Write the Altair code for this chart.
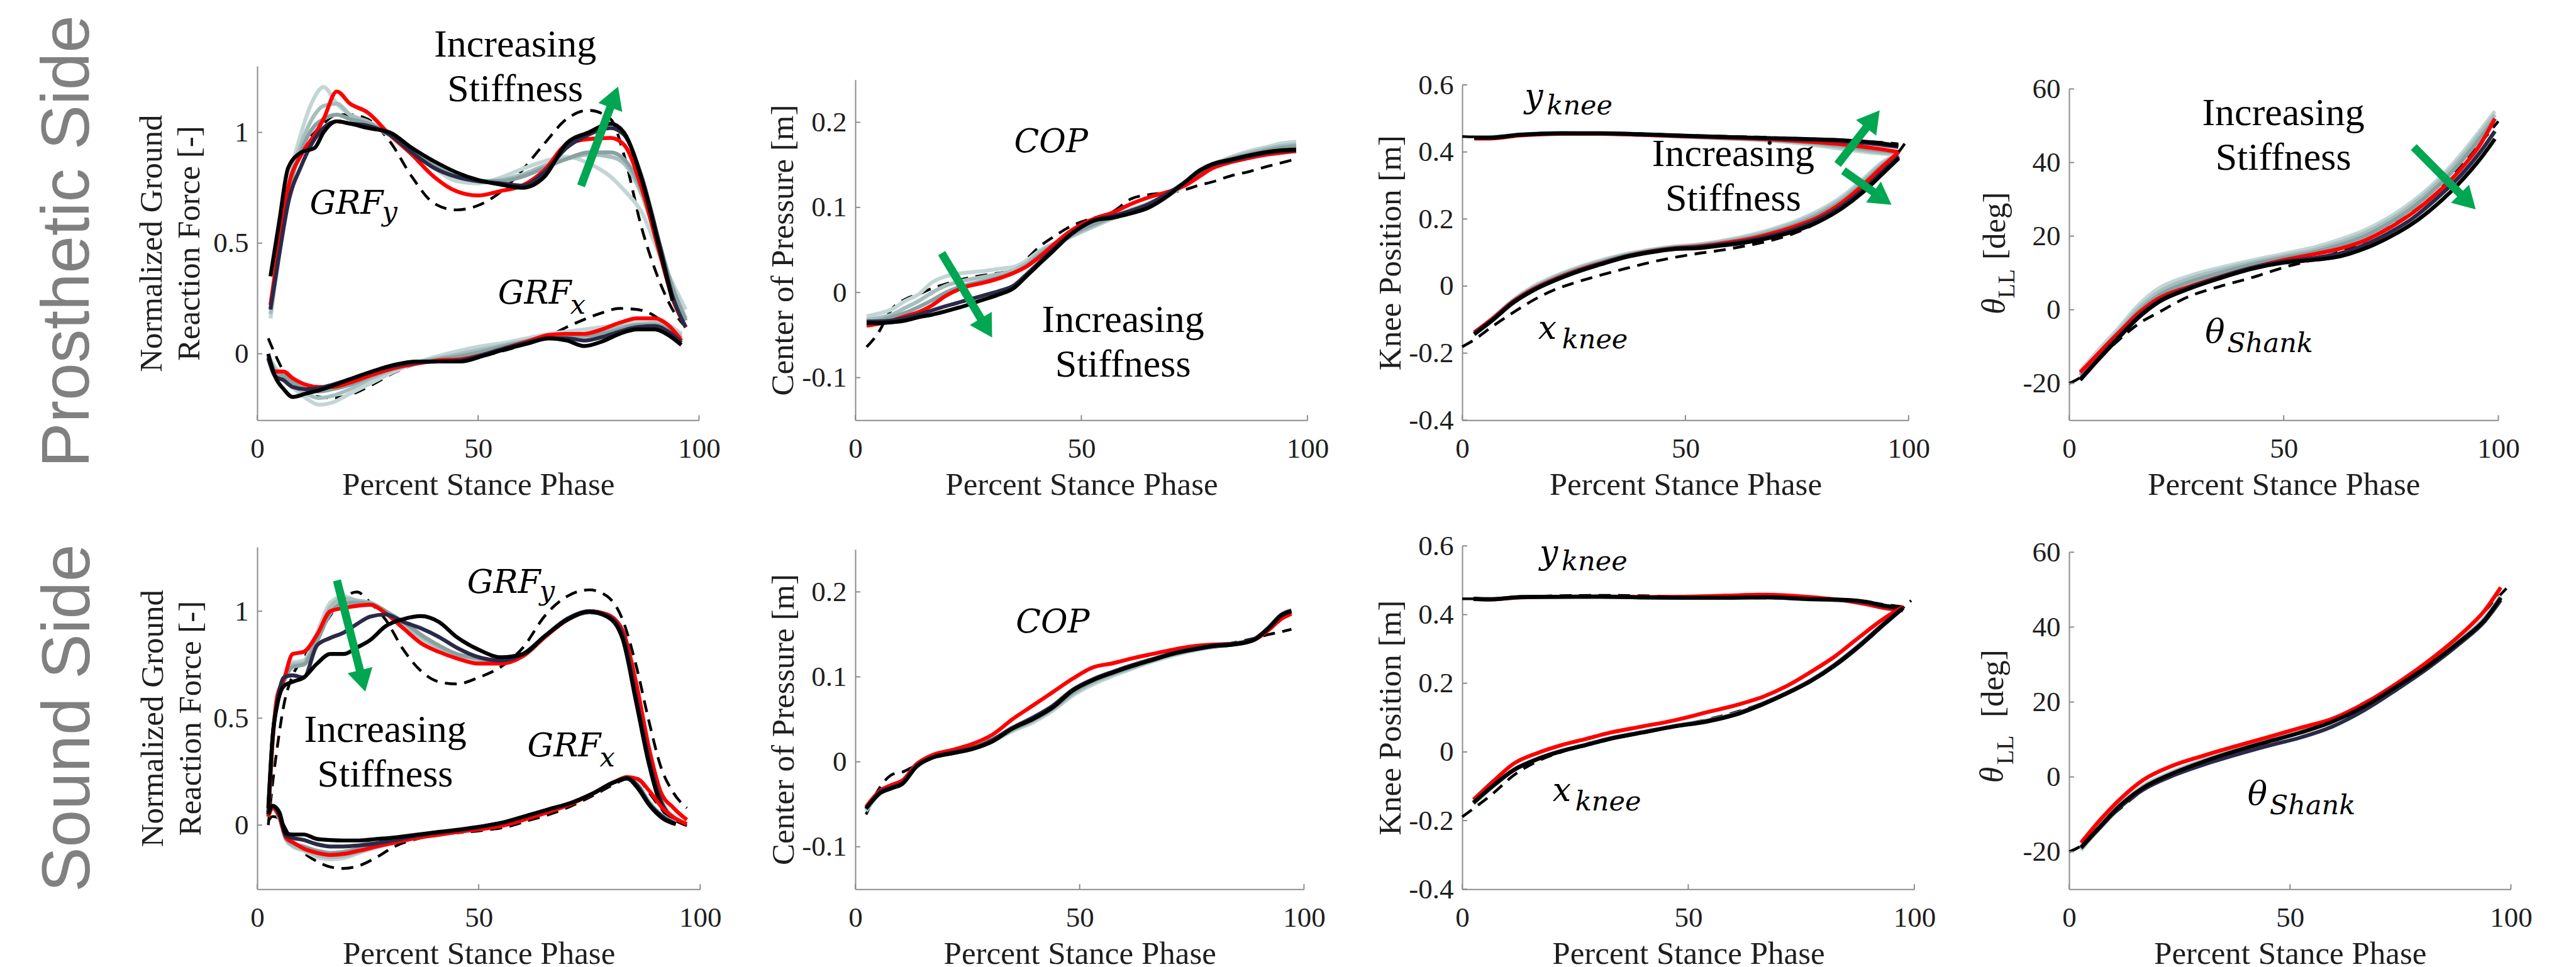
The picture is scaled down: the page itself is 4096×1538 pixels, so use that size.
import altair as alt
import pandas as pd

# ===================== DATA =====================
# ---- Prosthetic side (row 1) ----
R1_GRFY_X = [3, 5, 7, 10, 13, 15, 18, 21, 25, 30, 35, 40, 45, 50, 55, 60, 65, 70, 75, 80, 83, 87, 91, 94, 97]
R1_GRFY_G1 = [0.16, 0.45, 0.75, 1.0, 1.16, 1.205, 1.13, 1.08, 1.04, 0.985, 0.91, 0.84, 0.78, 0.77, 0.795, 0.835, 0.87, 0.89, 0.86, 0.8, 0.74, 0.64, 0.45, 0.32, 0.2]
R1_GRFY_G2 = [0.18, 0.47, 0.74, 0.95, 1.08, 1.12, 1.13, 1.08, 1.05, 0.99, 0.92, 0.85, 0.8, 0.78, 0.785, 0.81, 0.85, 0.88, 0.9, 0.89, 0.86, 0.72, 0.48, 0.3, 0.16]
R1_GRFY_G3 = [0.2, 0.48, 0.72, 0.92, 1.03, 1.06, 1.08, 1.06, 1.04, 0.99, 0.92, 0.85, 0.8, 0.78, 0.78, 0.8, 0.84, 0.88, 0.91, 0.91, 0.88, 0.74, 0.5, 0.3, 0.15]
R1_GRFY_RED = [0.22, 0.5, 0.75, 0.9, 0.99, 1.06, 1.185, 1.13, 1.09, 0.99, 0.9, 0.8, 0.735, 0.715, 0.735, 0.76, 0.83, 0.945, 0.97, 0.975, 0.945, 0.75, 0.46, 0.25, 0.12]
R1_GRFY_NAVY = [0.2, 0.45, 0.68, 0.85, 0.97, 1.02, 1.05, 1.04, 1.03, 0.99, 0.91, 0.84, 0.8, 0.78, 0.77, 0.76, 0.82, 0.93, 0.99, 1.02, 0.99, 0.8, 0.5, 0.26, 0.12]
R1_GRFY_BLACK = [0.35, 0.6, 0.84, 0.91, 0.93, 1.0, 1.05, 1.04, 1.02, 1.0, 0.93, 0.87, 0.82, 0.785, 0.765, 0.75, 0.8, 0.95, 1.0, 1.04, 1.0, 0.79, 0.48, 0.24, None]
R1_GRFY_REF = [0.22, 0.5, 0.75, 0.92, 1.0, 1.04, 1.08, 1.08, 1.06, 0.96, 0.8, 0.68, 0.65, 0.67, 0.73, 0.83, 0.95, 1.06, 1.1, 1.06, 0.9, 0.57, 0.33, 0.2, 0.12]

R1_GRFX_X = [2.5, 4, 6, 8, 11, 14, 17, 21, 26, 31, 36, 41, 46, 51, 56, 61, 66, 70, 74, 78, 82, 86, 90, 93, 96]
R1_GRFX_G1 = [-0.01, -0.06, -0.1, -0.15, -0.2, -0.23, -0.22, -0.18, -0.13, -0.08, -0.04, -0.01, 0.015, 0.035, 0.05, 0.07, 0.09, 0.1, 0.11, 0.12, 0.13, 0.14, 0.14, 0.13, 0.09]
R1_GRFX_G2 = [-0.01, -0.07, -0.1, -0.14, -0.18, -0.2, -0.19, -0.16, -0.11, -0.07, -0.04, -0.02, 0.0, 0.02, 0.04, 0.06, 0.08, 0.09, 0.09, 0.1, 0.12, 0.13, 0.14, 0.12, 0.08]
R1_GRFX_G3 = [-0.01, -0.08, -0.1, -0.13, -0.16, -0.17, -0.16, -0.14, -0.1, -0.065, -0.04, -0.025, -0.01, 0.01, 0.035, 0.055, 0.075, 0.08, 0.08, 0.09, 0.11, 0.13, 0.13, 0.11, 0.07]
R1_GRFX_RED = [-0.02, -0.08, -0.08, -0.11, -0.14, -0.15, -0.15, -0.13, -0.095, -0.065, -0.045, -0.03, -0.025, -0.005, 0.025, 0.055, 0.085, 0.09, 0.09, 0.11, 0.14, 0.16, 0.16, 0.13, 0.06]
R1_GRFX_NAVY = [-0.02, -0.1, -0.12, -0.15, -0.16, -0.155, -0.14, -0.115, -0.08, -0.055, -0.04, -0.035, -0.03, -0.005, 0.025, 0.05, 0.07, 0.07, 0.06, 0.075, 0.1, 0.12, 0.125, 0.1, 0.05]
R1_GRFX_BLACK = [0.0, -0.1, -0.16, -0.195, -0.18, -0.165, -0.145, -0.115, -0.08, -0.05, -0.035, -0.035, -0.035, -0.01, 0.02, 0.045, 0.07, 0.06, 0.035, 0.055, 0.09, 0.11, 0.11, 0.085, 0.04]
R1_GRFX_REF = [0.07, 0.0, -0.08, -0.13, -0.17, -0.195, -0.2, -0.185, -0.14, -0.085, -0.045, -0.03, -0.025, -0.01, 0.015, 0.045, 0.08, 0.12, 0.155, 0.185, 0.205, 0.2, 0.17, 0.12, 0.06]

R1_COP_X = [2.5, 5, 8, 11, 14, 17, 20, 24, 28, 32, 35, 38, 41, 44, 47, 50, 53, 57, 61, 65, 69, 73, 76, 79, 83, 87, 91, 94, 97.5]
R1_COP_G1 = [-0.028, -0.025, -0.02, -0.01, -0.002, 0.012, 0.019, 0.023, 0.025, 0.028, 0.03, 0.038, 0.05, 0.058, 0.064, 0.071, 0.078, 0.087, 0.095, 0.103, 0.113, 0.127, 0.138, 0.15, 0.159, 0.166, 0.171, 0.175, 0.177]
R1_COP_G2 = [-0.032, -0.03, -0.026, -0.018, -0.01, 0.0, 0.008, 0.014, 0.018, 0.022, 0.026, 0.035, 0.048, 0.057, 0.064, 0.072, 0.079, 0.088, 0.096, 0.104, 0.114, 0.128, 0.14, 0.15, 0.158, 0.164, 0.169, 0.172, 0.174]
R1_COP_G3 = [-0.035, -0.033, -0.029, -0.024, -0.017, -0.009, 0.0, 0.008, 0.013, 0.018, 0.023, 0.032, 0.045, 0.056, 0.066, 0.074, 0.081, 0.089, 0.097, 0.105, 0.115, 0.129, 0.14, 0.15, 0.157, 0.162, 0.167, 0.17, 0.172]
R1_COP_RED = [-0.039, -0.037, -0.033, -0.028, -0.023, -0.015, -0.004, 0.006, 0.011, 0.017, 0.023, 0.031, 0.043, 0.057, 0.07, 0.08, 0.087, 0.094, 0.104, 0.112, 0.118, 0.126, 0.136, 0.146, 0.153, 0.158, 0.162, 0.164, 0.166]
R1_COP_NAVY = [-0.034, -0.034, -0.033, -0.03, -0.026, -0.021, -0.016, -0.01, -0.004, 0.002, 0.008, 0.022, 0.037, 0.052, 0.066, 0.077, 0.085, 0.09, 0.096, 0.104, 0.116, 0.13, 0.142, 0.15, 0.155, 0.16, 0.164, 0.166, 0.167]
R1_COP_BLACK = [-0.036, -0.036, -0.035, -0.033, -0.029, -0.026, -0.022, -0.016, -0.009, -0.002, 0.005, 0.02, 0.035, 0.05, 0.065, 0.077, 0.085, 0.088, 0.093, 0.1, 0.113, 0.13, 0.143, 0.151, 0.156, 0.161, 0.165, 0.167, 0.168]
R1_COP_REF = [-0.064, -0.048, -0.02, -0.008, -0.002, 0.005, 0.01, 0.016, 0.02, 0.023, 0.026, 0.04, 0.055, 0.066, 0.076, 0.083, 0.088, 0.095, 0.11, 0.115, 0.117, 0.121, 0.126, 0.13, 0.137, 0.142, 0.148, 0.152, 0.157]

R1_YK_X = [2.7, 6, 13, 22, 31, 40, 49, 58, 67, 76, 85, 92.3, 97.7]
R1_YK_G1 = [0.444, 0.444, 0.452, 0.456, 0.455, 0.451, 0.446, 0.441, 0.435, 0.425, 0.409, 0.397, 0.391]
R1_YK_G2 = [0.444, 0.444, 0.452, 0.456, 0.455, 0.451, 0.446, 0.441, 0.436, 0.428, 0.414, 0.401, 0.394]
R1_YK_G3 = [0.443, 0.443, 0.451, 0.455, 0.455, 0.452, 0.447, 0.442, 0.438, 0.431, 0.419, 0.406, 0.398]
R1_YK_RED = [0.44, 0.44, 0.449, 0.454, 0.454, 0.451, 0.447, 0.443, 0.439, 0.432, 0.423, 0.411, 0.4]
R1_YK_NAVY = [0.443, 0.443, 0.451, 0.455, 0.455, 0.452, 0.448, 0.444, 0.441, 0.437, 0.432, 0.424, 0.415]
R1_YK_BLACK = [0.442, 0.442, 0.451, 0.456, 0.456, 0.453, 0.449, 0.445, 0.442, 0.439, 0.435, 0.428, 0.419]
R1_YK_REF_X = [0, 2.7, 6, 13, 22, 31, 40, 49, 58, 67, 76, 85, 92.3, 97.7]
R1_YK_REF = [0.446, 0.445, 0.445, 0.45, 0.455, 0.456, 0.454, 0.45, 0.447, 0.444, 0.44, 0.436, 0.43, 0.424]

R1_XK_X = [2.7, 6.8, 11.3, 15.8, 20.3, 25.7, 31.1, 36.5, 41.9, 47.3, 52.7, 58.1, 63.5, 68.9, 74.3, 79.7, 85.2, 89.7, 94.2, 97.8]
R1_XK_G1 = [-0.14, -0.095, -0.042, -0.002, 0.027, 0.055, 0.077, 0.095, 0.108, 0.118, 0.124, 0.135, 0.149, 0.168, 0.192, 0.224, 0.268, 0.318, 0.37, 0.396]
R1_XK_G2 = [-0.141, -0.097, -0.045, -0.005, 0.024, 0.052, 0.074, 0.093, 0.106, 0.116, 0.122, 0.132, 0.145, 0.163, 0.187, 0.218, 0.262, 0.312, 0.366, 0.394]
R1_XK_G3 = [-0.142, -0.099, -0.047, -0.008, 0.021, 0.049, 0.071, 0.091, 0.104, 0.114, 0.12, 0.129, 0.141, 0.158, 0.181, 0.212, 0.255, 0.305, 0.36, 0.39]
R1_XK_RED = [-0.138, -0.097, -0.047, -0.01, 0.018, 0.046, 0.068, 0.088, 0.103, 0.113, 0.118, 0.127, 0.138, 0.155, 0.177, 0.205, 0.25, 0.3, 0.357, 0.4]
R1_XK_NAVY = [-0.142, -0.1, -0.049, -0.012, 0.016, 0.044, 0.067, 0.088, 0.102, 0.112, 0.116, 0.124, 0.134, 0.149, 0.169, 0.198, 0.24, 0.286, 0.342, 0.386]
R1_XK_BLACK = [-0.144, -0.102, -0.051, -0.014, 0.014, 0.042, 0.065, 0.086, 0.1, 0.11, 0.113, 0.121, 0.13, 0.144, 0.163, 0.191, 0.233, 0.279, 0.335, 0.381]
R1_XK_REF_X = [0, 2.7, 6.8, 11.3, 15.8, 20.3, 25.7, 31.1, 36.5, 41.9, 47.3, 52.7, 58.1, 63.5, 68.9, 74.3, 79.7, 85.2, 89.7, 94.2, 97.8, 100]
R1_XK_REF = [-0.181, -0.16, -0.12, -0.08, -0.043, -0.013, 0.012, 0.033, 0.052, 0.07, 0.085, 0.097, 0.107, 0.12, 0.135, 0.157, 0.19, 0.24, 0.29, 0.35, 0.4, 0.442]

R1_TH_X = [2.6, 6.8, 11.5, 16.2, 20.9, 27.5, 35, 42.5, 50, 57.5, 63.1, 68.8, 74.4, 80, 85.6, 91.3, 96, 99.2]
R1_TH_G1 = [-16.6, -11, -5, 1.3, 5.8, 9.0, 11.4, 13.4, 15.2, 17.1, 19.1, 21.6, 25.0, 29.4, 35.0, 42.2, 49.1, 54]
R1_TH_G2 = [-17.2, -11.8, -5.8, 0.4, 4.8, 8.2, 10.7, 12.8, 14.6, 16.4, 18.3, 20.8, 24.2, 28.6, 34.2, 41.3, 48.2, 53]
R1_TH_G3 = [-17.8, -12.4, -6.5, -0.4, 3.9, 7.3, 10.0, 12.3, 14.1, 15.8, 17.6, 20.0, 23.4, 27.7, 33.2, 40.2, 47.0, 52]
R1_TH_RED = [-17, -11.9, -6.3, -0.9, 3.1, 6.1, 8.9, 11.4, 13.5, 15.2, 16.6, 18.8, 22.1, 26.3, 31.6, 38.3, 45.3, 51.9]
R1_TH_NAVY = [-18.8, -13.3, -7.4, -1.8, 2.4, 5.8, 8.8, 11.4, 13.1, 14.1, 15.3, 17.6, 20.8, 24.8, 30.2, 36.6, 43.2, 48.5]
R1_TH_BLACK = [-19.1, -13.6, -7.7, -2.1, 2.1, 5.5, 8.5, 11.1, 12.8, 13.6, 14.5, 16.6, 19.6, 23.4, 28.5, 34.9, 41.3, 46.4]
R1_TH_REF_X = [0, 2.6, 6.8, 11.5, 16.2, 20.9, 27.5, 35, 42.5, 50, 57.5, 63.1, 68.8, 74.4, 80, 85.6, 91.3, 96, 100]
R1_TH_REF = [-20, -18.4, -13.4, -8.3, -3.8, -0.7, 3.4, 6.3, 8.7, 11.5, 13.8, 15.8, 18.6, 22.3, 26.5, 31.8, 39, 45.5, 51.2]

# ---- Sound side (row 2) ----
R2_GRFY_X = [2.5, 3.5, 4.5, 6, 8, 10.5, 13.5, 16.5, 19.5, 22.5, 25.5, 29, 33, 37, 41, 45, 50, 55, 60, 65, 70, 75, 79, 82.5, 85.5, 88.5, 91, 94, 97]
R2_GRFY_G1 = [0.05, 0.4, 0.6, 0.68, 0.76, 0.77, 0.9, 1.04, 1.07, 1.05, 1.04, 1.0, 0.93, 0.87, 0.83, 0.8, 0.77, 0.76, 0.79, 0.88, 0.96, 1.0, 0.98, 0.9, 0.64, 0.32, 0.13, 0.04, None]
R2_GRFY_G2 = [0.05, 0.4, 0.58, 0.67, 0.75, 0.76, 0.88, 1.02, 1.06, 1.05, 1.04, 1.0, 0.94, 0.88, 0.83, 0.8, 0.775, 0.765, 0.79, 0.88, 0.96, 0.995, 0.975, 0.89, 0.62, 0.31, 0.12, 0.035, None]
R2_GRFY_G3 = [0.05, 0.4, 0.58, 0.67, 0.74, 0.75, 0.86, 0.99, 1.04, 1.04, 1.035, 1.0, 0.95, 0.89, 0.84, 0.8, 0.78, 0.77, 0.795, 0.88, 0.96, 0.995, 0.975, 0.89, 0.61, 0.3, 0.11, 0.03, None]
R2_GRFY_RED = [0.04, 0.4, 0.6, 0.68, 0.8, 0.81, 0.89, 1.0, 1.015, 1.025, 1.03, 0.99, 0.92, 0.85, 0.81, 0.78, 0.755, 0.755, 0.79, 0.88, 0.96, 1.0, 0.985, 0.91, 0.67, 0.355, 0.16, 0.08, 0.025]
R2_GRFY_NAVY = [0.06, 0.42, 0.57, 0.69, 0.7, 0.69, 0.84, 0.875, 0.9, 0.94, 0.975, 0.985, 0.95, 0.92, 0.88, 0.83, 0.785, 0.77, 0.8, 0.885, 0.965, 1.0, 0.98, 0.89, 0.6, 0.3, 0.12, 0.03, None]
R2_GRFY_BLACK = [0.08, 0.42, 0.56, 0.65, 0.67, 0.69, 0.755, 0.8, 0.8, 0.83, 0.865, 0.93, 0.963, 0.977, 0.95, 0.88, 0.82, 0.785, 0.8, 0.885, 0.96, 0.997, 0.975, 0.87, 0.58, 0.28, 0.1, 0.015, None]
R2_GRFY_REF = [0.0, 0.2, 0.36, 0.56, 0.7, 0.78, 0.88, 0.98, 1.06, 1.09, 1.04, 0.96, 0.82, 0.72, 0.67, 0.66, 0.69, 0.74, 0.83, 0.98, 1.07, 1.1, 1.07, 0.96, 0.75, 0.48, 0.28, 0.15, 0.08]

R2_GRFX_X = [2.5, 3.5, 5, 6.5, 8, 10.5, 13.5, 16.5, 19.5, 23, 27, 31, 36, 41, 46, 51, 56, 61, 66, 71, 76, 80.5, 83.5, 86, 88.5, 91.5, 94.5, 97]
R2_GRFX_G1 = [0.04, 0.08, 0.03, -0.07, -0.1, -0.12, -0.15, -0.16, -0.155, -0.13, -0.105, -0.08, -0.06, -0.045, -0.03, -0.015, 0.005, 0.035, 0.068, 0.105, 0.15, 0.2, 0.22, 0.19, 0.11, 0.045, 0.01, None]
R2_GRFX_G2 = [0.04, 0.08, 0.03, -0.065, -0.095, -0.115, -0.14, -0.15, -0.145, -0.125, -0.1, -0.078, -0.058, -0.043, -0.029, -0.014, 0.006, 0.036, 0.069, 0.105, 0.15, 0.2, 0.22, 0.185, 0.105, 0.042, 0.008, None]
R2_GRFX_G3 = [0.045, 0.085, 0.04, -0.06, -0.085, -0.1, -0.12, -0.13, -0.125, -0.11, -0.092, -0.073, -0.055, -0.04, -0.027, -0.012, 0.008, 0.038, 0.07, 0.105, 0.15, 0.2, 0.22, 0.18, 0.1, 0.04, 0.007, None]
R2_GRFX_RED = [0.04, 0.08, 0.04, -0.06, -0.08, -0.11, -0.13, -0.14, -0.135, -0.12, -0.1, -0.082, -0.06, -0.045, -0.03, -0.018, 0.0, 0.03, 0.062, 0.1, 0.15, 0.2, 0.225, 0.215, 0.16, 0.08, 0.03, 0.005]
R2_GRFX_NAVY = [0.05, 0.09, 0.05, -0.05, -0.06, -0.07, -0.09, -0.1, -0.1, -0.095, -0.085, -0.07, -0.05, -0.035, -0.022, -0.006, 0.014, 0.044, 0.074, 0.105, 0.15, 0.2, 0.22, 0.18, 0.1, 0.04, 0.006, None]
R2_GRFX_BLACK = [0.05, 0.09, 0.06, -0.04, -0.044, -0.044, -0.065, -0.07, -0.072, -0.072, -0.065, -0.058, -0.045, -0.032, -0.02, -0.005, 0.015, 0.045, 0.075, 0.105, 0.15, 0.2, 0.218, 0.17, 0.094, 0.032, 0.004, None]
R2_GRFX_REF = [0.02, 0.04, 0.03, -0.02, -0.08, -0.13, -0.17, -0.196, -0.203, -0.19, -0.15, -0.1, -0.065, -0.045, -0.035, -0.025, -0.01, 0.02, 0.05, 0.09, 0.14, 0.19, 0.215, 0.21, 0.15, 0.07, 0.02, -0.003]

R2_COP_X = [2.4, 5.5, 8.2, 10.5, 13.6, 17.2, 21.6, 26.1, 30.6, 35, 39.5, 44, 48.5, 52.9, 57.4, 61.9, 66.3, 70.8, 75.3, 79.7, 84.2, 88.7, 92.3, 94.9, 97.2]
R2_COP_G1 = [-0.058, -0.037, -0.03, -0.024, -0.004, 0.006, 0.011, 0.016, 0.024, 0.036, 0.046, 0.06, 0.078, 0.091, 0.101, 0.11, 0.118, 0.125, 0.131, 0.135, 0.138, 0.143, 0.157, 0.17, 0.176]
R2_COP_G2 = [-0.057, -0.037, -0.03, -0.025, -0.005, 0.006, 0.011, 0.016, 0.025, 0.037, 0.048, 0.062, 0.08, 0.093, 0.103, 0.111, 0.119, 0.126, 0.131, 0.135, 0.138, 0.143, 0.157, 0.171, 0.177]
R2_COP_G3 = [-0.056, -0.037, -0.031, -0.025, -0.005, 0.005, 0.01, 0.015, 0.025, 0.038, 0.049, 0.063, 0.082, 0.095, 0.104, 0.112, 0.12, 0.127, 0.132, 0.136, 0.138, 0.143, 0.158, 0.172, 0.177]
R2_COP_RED = [-0.053, -0.034, -0.027, -0.022, -0.003, 0.008, 0.014, 0.021, 0.032, 0.05, 0.066, 0.082, 0.098, 0.111, 0.116, 0.122, 0.127, 0.132, 0.136, 0.138, 0.139, 0.143, 0.156, 0.168, 0.174]
R2_COP_NAVY = [-0.055, -0.036, -0.03, -0.025, -0.005, 0.005, 0.011, 0.016, 0.026, 0.04, 0.052, 0.066, 0.085, 0.097, 0.106, 0.114, 0.121, 0.128, 0.133, 0.137, 0.139, 0.144, 0.159, 0.173, 0.178]
R2_COP_BLACK = [-0.055, -0.037, -0.031, -0.026, -0.006, 0.005, 0.01, 0.015, 0.024, 0.039, 0.05, 0.064, 0.084, 0.096, 0.105, 0.113, 0.12, 0.127, 0.132, 0.136, 0.138, 0.143, 0.158, 0.172, 0.177]
R2_COP_REF = [-0.062, -0.03, -0.015, -0.012, -0.004, 0.004, 0.01, 0.016, 0.025, 0.036, 0.046, 0.06, 0.078, 0.093, 0.103, 0.112, 0.12, 0.127, 0.132, 0.136, 0.14, 0.145, 0.15, 0.153, 0.156]

R2_YK_X = [2.5, 6, 13, 22, 31, 40, 49, 58, 67, 76, 85, 89.5, 93, 97.5]
R2_YK_G1 = [0.445, 0.444, 0.45, 0.452, 0.452, 0.45, 0.449, 0.45, 0.451, 0.447, 0.442, 0.434, 0.424, 0.416]
R2_YK_G2 = [0.445, 0.445, 0.45, 0.452, 0.452, 0.45, 0.449, 0.45, 0.451, 0.447, 0.442, 0.435, 0.425, 0.417]
R2_YK_G3 = [0.446, 0.445, 0.451, 0.452, 0.452, 0.45, 0.449, 0.449, 0.45, 0.446, 0.442, 0.436, 0.426, 0.418]
R2_YK_RED = [0.445, 0.444, 0.45, 0.452, 0.452, 0.451, 0.452, 0.455, 0.458, 0.452, 0.44, 0.43, 0.42, 0.412]
R2_YK_NAVY = [0.446, 0.445, 0.451, 0.452, 0.452, 0.45, 0.449, 0.449, 0.45, 0.445, 0.441, 0.435, 0.425, 0.418]
R2_YK_BLACK = [0.446, 0.444, 0.451, 0.452, 0.453, 0.45, 0.449, 0.449, 0.451, 0.446, 0.443, 0.437, 0.427, 0.419]
R2_YK_REF_X = [0, 2.5, 6, 13, 22, 31, 40, 49, 58, 67, 76, 85, 89.5, 93, 97.5]
R2_YK_REF = [0.446, 0.446, 0.446, 0.451, 0.455, 0.456, 0.455, 0.451, 0.449, 0.448, 0.446, 0.442, 0.437, 0.43, 0.423]

R2_XK_X = [2.5, 6.9, 11.4, 16.7, 22, 27.4, 32.7, 39.8, 46.9, 54, 61.1, 66.4, 71.8, 77.1, 82.4, 87.7, 93.1, 97.5]
R2_XK_G1 = [-0.152, -0.1, -0.053, -0.02, 0.004, 0.022, 0.04, 0.058, 0.076, 0.091, 0.114, 0.14, 0.172, 0.209, 0.255, 0.31, 0.372, 0.418]
R2_XK_G2 = [-0.15, -0.099, -0.053, -0.02, 0.003, 0.021, 0.039, 0.057, 0.075, 0.09, 0.113, 0.139, 0.171, 0.208, 0.254, 0.309, 0.371, 0.419]
R2_XK_G3 = [-0.149, -0.098, -0.052, -0.02, 0.003, 0.021, 0.039, 0.057, 0.075, 0.09, 0.112, 0.139, 0.171, 0.207, 0.253, 0.308, 0.37, 0.419]
R2_XK_RED = [-0.139, -0.085, -0.034, -0.003, 0.02, 0.038, 0.056, 0.074, 0.092, 0.115, 0.138, 0.16, 0.192, 0.233, 0.278, 0.333, 0.387, 0.423]
R2_XK_NAVY = [-0.147, -0.097, -0.052, -0.02, 0.003, 0.021, 0.039, 0.057, 0.075, 0.09, 0.113, 0.14, 0.172, 0.208, 0.254, 0.309, 0.372, 0.42]
R2_XK_BLACK = [-0.148, -0.098, -0.053, -0.021, 0.002, 0.02, 0.038, 0.056, 0.074, 0.088, 0.111, 0.138, 0.17, 0.206, 0.251, 0.306, 0.369, 0.419]
R2_XK_REF_X = [0, 2.5, 6.9, 11.4, 16.7, 22, 27.4, 32.7, 39.8, 46.9, 54, 61.1, 66.4, 71.8, 77.1, 82.4, 87.7, 93.1, 97.5, 99.3]
R2_XK_REF = [-0.189, -0.165, -0.12, -0.068, -0.027, 0.0, 0.02, 0.037, 0.056, 0.075, 0.094, 0.118, 0.142, 0.173, 0.21, 0.255, 0.31, 0.37, 0.42, 0.441]

R2_TH_X = [2.7, 6.8, 11.4, 16.8, 23.2, 30.5, 37.7, 45, 52.3, 59.5, 66.8, 74.1, 81.4, 88.6, 94.1, 97.7]
R2_TH_G1 = [-19.6, -13.4, -7.4, -2.4, 1.3, 4.6, 7.3, 9.8, 12.3, 15.1, 19.1, 24.4, 30.2, 36.8, 42.6, 48.4]
R2_TH_G2 = [-19.3, -13.5, -7.6, -2.6, 1.0, 4.3, 7.1, 9.6, 12.0, 14.9, 19.0, 24.2, 30.0, 36.5, 42.3, 48.1]
R2_TH_G3 = [-19.0, -13.6, -7.8, -2.8, 0.9, 4.2, 7.0, 9.5, 11.9, 14.8, 18.9, 24.2, 29.9, 36.4, 42.1, 47.9]
R2_TH_RED = [-17.6, -11.8, -6.1, -0.8, 2.9, 5.7, 8.2, 10.6, 13.1, 15.5, 19.6, 24.9, 31, 38, 44.5, 50.6]
R2_TH_NAVY = [-19.0, -13.8, -8.2, -3.4, 0.2, 3.3, 5.9, 8.3, 10.5, 13.4, 17.8, 23.3, 29.2, 35.8, 41.6, 47.2]
R2_TH_BLACK = [-18.8, -13.5, -7.8, -2.9, 0.8, 4.1, 6.9, 9.4, 11.8, 14.7, 18.8, 24.1, 29.8, 36.3, 42, 47.8]
R2_TH_REF_X = [0, 2.7, 6.8, 11.4, 16.8, 23.2, 30.5, 37.7, 45, 52.3, 59.5, 66.8, 74.1, 81.4, 88.6, 94.1, 99.5]
R2_TH_REF = [-20, -18.4, -13.3, -8.6, -3.5, 0.4, 3.9, 6.8, 9.4, 12.2, 15.4, 19.8, 24.8, 31, 38, 44.3, 51]

# axis ticks / labels
X_TICKS = [0, 50, 100]
GRF_TICKS = [0, 0.5, 1]
COP_TICKS = [-0.1, 0, 0.1, 0.2]
KNEE_TICKS = [-0.4, -0.2, 0, 0.2, 0.4, 0.6]
TH_TICKS = [-20, 0, 20, 40, 60]

# ===================== STYLE =====================
AX = "#8c8c8c"
TXT = "#1e1e1e"
SERIF = "Liberation Serif"
MATH = "DejaVu Serif"
GREEN = "#00a651"
LW = 6.2
STYLE = {
    "ref": ("#000000", 4.4, [19, 12]),
    "g1": ("#c3d5d5", LW, None),
    "g2": ("#a6bebe", LW, None),
    "g3": ("#88a2a2", LW, None),
    "red": ("#ff0000", LW, None),
    "navy": ("#2a2a48", LW, None),
    "black": ("#000000", LW, None),
}
ORDER = ["ref", "g1", "g2", "g3", "red", "navy", "black"]


def series(prefix, ref_x=None):
    g = globals()
    xs = g[prefix + "_X"]
    out = {}
    for s in ORDER:
        key = prefix + "_" + s.upper()
        if s == "ref" and ref_x is not None:
            out[s] = (g[ref_x], g[key])
        else:
            out[s] = (xs, g[key])
    return out


def frame(xs, ys):
    rows = [(a, b) for a, b in zip(xs, ys) if b is not None]
    return pd.DataFrame(rows, columns=["x", "y"])


def encodings(c):
    xenc = alt.X("x:Q", scale=alt.Scale(domain=[0, 100], nice=False, zero=False),
                 axis=alt.Axis(values=X_TICKS, title="Percent Stance Phase", labelPadding=23,
                               titleY=118, titleBaseline="alphabetic", labelExpr="'' + datum.value"))
    yax = dict(values=c["yticks"], labelPadding=14, labelExpr="'' + datum.value")
    if c.get("ytitle"):
        yax.update(title=c["ytitle"], titleX=c["titlex"], titleBaseline="alphabetic", titleLineHeight=60)
    else:
        yax["title"] = None
    yenc = alt.Y("y:Q", scale=alt.Scale(domain=c["ydom"], range=[c["h"], c["top"]], nice=False, zero=False),
                 axis=alt.Axis(**yax))
    return xenc, yenc


def txt(xenc, yenc, x, y, text, font, size, style="normal", align="left", dx=0, dy=0, angle=0, lh=None, color="#000000"):
    kw = dict(font=font, fontSize=size, fontStyle=style, align=align, baseline="alphabetic", color=color)
    if dx:
        kw["dx"] = dx
    if dy:
        kw["dy"] = dy
    if angle:
        kw["angle"] = angle
    if lh:
        kw["lineBreak"] = "\n"
        kw["lineHeight"] = lh
    df = pd.DataFrame({"x": [x], "y": [y], "t": [text]})
    return alt.Chart(df).mark_text(**kw).encode(x=xenc, y=yenc, text="t:N")


def panel(c):
    xenc, yenc = encodings(c)
    layers = []
    for var in c["vars"]:
        for s in ORDER:
            xs, ys = var[s]
            col, w, dash = STYLE[s]
            kw = dict(color=col, strokeWidth=w, interpolate="monotone")
            if dash:
                kw["strokeDash"] = dash
            layers.append(alt.Chart(frame(xs, ys)).mark_line(**kw).encode(x=xenc, y=yenc))
    # inward ticks
    layers.append(alt.Chart(pd.DataFrame({"y": c["yticks"]})).mark_rule(color=AX, strokeWidth=2)
                  .encode(y=yenc, x=alt.value(0), x2=alt.value(8)))
    layers.append(alt.Chart(pd.DataFrame({"x": X_TICKS})).mark_rule(color=AX, strokeWidth=2)
                  .encode(x=xenc, y=alt.value(c["h"]), y2=alt.value(c["h"] - 8)))
    # annotations
    for (x, y) in c.get("inc", []):
        layers.append(txt(xenc, yenc, x, y, "Increasing\nStiffness", SERIF, 62, align="center", lh=71))
    for (main, x, y, sub, sdx, sdy) in c.get("math", []):
        layers.append(txt(xenc, yenc, x, y, main, MATH, 52, style="italic"))
        layers.append(txt(xenc, yenc, x, y, sub, MATH, 43, style="italic", dx=sdx, dy=sdy))
    for (t, x, y) in c.get("center_math", []):
        layers.append(txt(xenc, yenc, x, y, t, MATH, 52, style="italic", align="center"))
    for (tail, head, ang) in c.get("arrows", []):
        df = pd.DataFrame({"x": [tail[0], head[0]], "y": [tail[1], head[1]]})
        layers.append(alt.Chart(df).mark_line(color=GREEN, strokeWidth=13, strokeCap="butt").encode(x=xenc, y=yenc))
        layers.append(alt.Chart(pd.DataFrame({"x": [head[0]], "y": [head[1]]}))
                      .mark_point(shape="triangle-up", filled=True, size=1650, angle=ang, color=GREEN, opacity=1)
                      .encode(x=xenc, y=yenc))
    if "theta_title" in c:
        (tx, ty), (lx, ly), (dxp, dyv) = c["theta_title"]
        for (px, yv, t, fnt, sz, st) in [(tx, ty, "\u03b8", SERIF, 52, "italic"), (lx, ly, "LL", SERIF, 38, "normal"),
                                         (dxp, dyv, "[deg]", SERIF, 51, "normal")]:
            df = pd.DataFrame({"y": [yv], "t": [t]})
            layers.append(alt.Chart(df).mark_text(font=fnt, fontSize=sz, fontStyle=st, align="left",
                                                  baseline="alphabetic", angle=270, color=TXT)
                          .encode(x=alt.value(px), y=yenc, text="t:N"))
    if "rowlabel" in c:
        t, px, py = c["rowlabel"]
        layers.append(alt.Chart(pd.DataFrame({"t": [t]})).mark_text(
            font="Liberation Sans", fontSize=107, align="center", baseline="alphabetic", angle=270, color="#808080")
            .encode(x=alt.value(px), y=alt.value(py), text="t:N"))
    return alt.layer(*layers).properties(width=c["w"], height=c["h"])


H1, H2 = 563.3, 547.8
R1 = [
    dict(w=702.5, h=H1, top=0, ydom=[-0.3, 1.3], yticks=GRF_TICKS,
         ytitle=["Normalized Ground", "Reaction Force [-]"], titlex=-153,
         vars=[series("R1_GRFY"), series("R1_GRFX")],
         inc=[(58.4, 1.342)],
         math=[("GRF", 11.9, 0.633, "y", 115, 11), ("GRF", 54.5, 0.225, "x", 115, 16)],
         arrows=[((73.3, 0.759), (80.8, 1.160), 20.5)],
         rowlabel=("Prosthetic Side", -268.5, 279)),
    dict(w=718.9, h=H1, top=21.8, ydom=[-0.15, 0.25], yticks=COP_TICKS,
         ytitle="Center of Pressure [m]", titlex=-100,
         vars=[series("R1_COP")],
         inc=[(59.2, -0.046)], center_math=[("COP", 43.3, 0.165)],
         arrows=[((19.1, 0.0463), (29.0, -0.0416), 149.1)]),
    dict(w=709.8, h=H1, top=30.0, ydom=[-0.4, 0.6], yticks=KNEE_TICKS,
         ytitle="Knee Position [m]", titlex=-99,
         vars=[series("R1_YK", "R1_YK_REF_X"), series("R1_XK", "R1_XK_REF_X")],
         inc=[(60.7, 0.358)],
         math=[("y", 14.0, 0.535, "knee", 35, 12), ("x", 17.0, -0.158, "knee", 38, 15)],
         arrows=[((84.1, 0.363), (92.0, 0.498), 37.9), ((85.4, 0.344), (94.15, 0.2616), 125.3)]),
    dict(w=682.5, h=H1, top=36.4, ydom=[-30, 60], yticks=TH_TICKS,
         vars=[series("R1_TH", "R1_TH_REF_X")],
         inc=[(49.9, 50.2)],
         math=[("\u03b8", 31.7, -8.9, "Shank", 35, 15)],
         arrows=[((80.3, 44.2), (92.9, 29.4), 134.9)],
         theta_title=((-103, -1.25), (-87, 3.1), (-102, 13.6))),
]
R2 = [
    dict(w=704.3, h=H2, top=3.6, ydom=[-0.3, 1.3], yticks=GRF_TICKS,
         ytitle=["Normalized Ground", "Reaction Force [-]"], titlex=-151,
         vars=[series("R2_GRFY"), series("R2_GRFX")],
         inc=[(28.9, 0.39)],
         math=[("GRF", 47.4, 1.087, "y", 115, 11), ("GRF", 61.0, 0.321, "x", 115, 16)],
         arrows=[((18.0, 1.144), (23.8, 0.674), 166.2)],
         rowlabel=("Sound Side", -266.6, 275.7)),
    dict(w=713.4, h=H2, top=7.3, ydom=[-0.15, 0.25], yticks=COP_TICKS,
         ytitle="Center of Pressure [m]", titlex=-99,
         vars=[series("R2_COP")],
         center_math=[("COP", 44.0, 0.1525)]),
    dict(w=718.9, h=H2, top=1.8, ydom=[-0.4, 0.6], yticks=KNEE_TICKS,
         ytitle="Knee Position [m]", titlex=-99,
         vars=[series("R2_YK", "R2_YK_REF_X"), series("R2_XK", "R2_XK_REF_X")],
         math=[("y", 17.1, 0.549, "knee", 35, 11), ("x", 20.0, -0.143, "knee", 36, 15)]),
    dict(w=702.5, h=H2, top=11.8, ydom=[-30, 60], yticks=TH_TICKS,
         vars=[series("R2_TH", "R2_TH_REF_X")],
         math=[("\u03b8", 40.4, -7.4, "Shank", 35, 15)],
         theta_title=((-106, -1.6), (-89, 3.3), (-105, 15.9))),
]

panels = [panel(c) for c in R1] + [panel(c) for c in R2]

chart = (
    alt.concat(*panels, columns=4, spacing={"row": 197.5, "column": 246}, bounds="flush")
    .properties(padding={"left": 54, "top": 24, "right": 5, "bottom": 0})
    .configure_view(stroke=None)
    .configure_axis(domainColor=AX, domainWidth=2, ticks=False, tickSize=0, grid=False,
                    labelFont=SERIF, labelFontSize=45, labelColor=TXT, labelFlush=False, labelOverlap=False,
                    titleFont=SERIF, titleFontSize=51, titleFontWeight="normal", titleColor=TXT)
)

chart.save("out.html", embed_options={"renderer": "svg", "actions": False})
